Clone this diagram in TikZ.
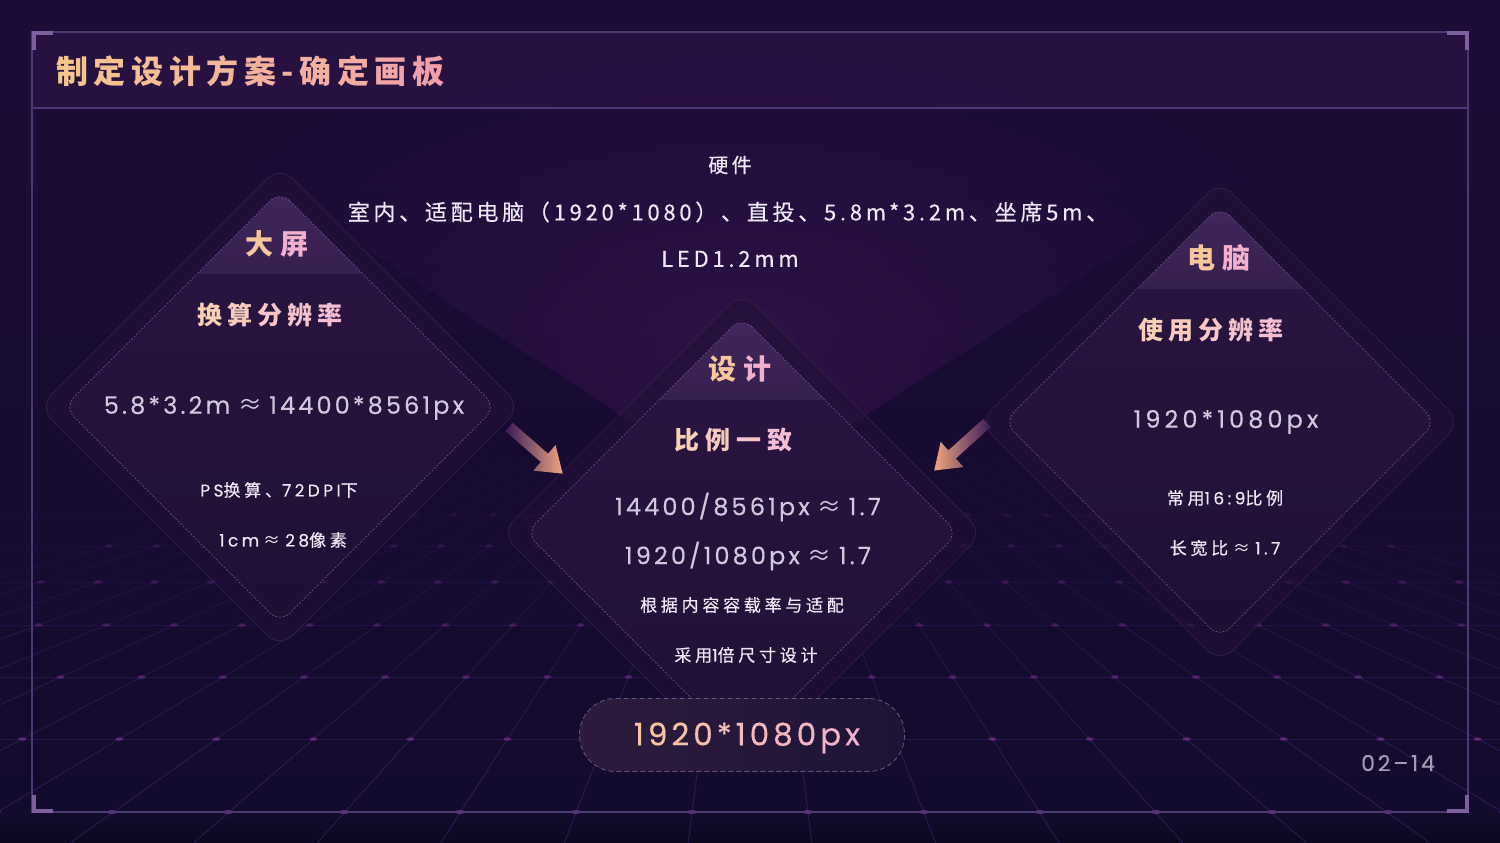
\documentclass[tikz,border=0pt]{standalone}
\usepackage{fontspec}
\usetikzlibrary{fadings}
\setmainfont{Poppins}
\newfontfamily\cjk{Noto Sans CJK SC}[LetterSpace=17,FakeBold=0.4]
\newfontfamily\cjkm{Noto Sans CJK SC}[LetterSpace=22,FakeBold=0.4]
\newfontfamily\cjks{Noto Sans CJK SC}[LetterSpace=22,FakeBold=0.4]
\newfontfamily\cjkp{Noto Sans CJK SC}
\newfontfamily\lat{Poppins}[LetterSpace=13,FakeBold=0.2]
\newfontfamily\lats{Poppins}[LetterSpace=20,FakeBold=0.3]
\newfontfamily\latp{Poppins}[FakeBold=0.4]
\tikzfading[name=glowfade, inner color=transparent!0, outer color=transparent!100]
\definecolor{bgA}{HTML}{1E0C38}
\definecolor{bgB}{HTML}{190B34}
\definecolor{bgC}{HTML}{130B2D}
\definecolor{bgD}{HTML}{0B0820}
\definecolor{framec}{HTML}{4A3A72}
\definecolor{brk}{HTML}{7E609F}
\definecolor{barc}{HTML}{2B1446}
\definecolor{barline}{HTML}{4F3873}
\definecolor{outerc}{HTML}{241139}
\definecolor{outerb}{HTML}{352449}
\definecolor{innert}{HTML}{2A1543}
\definecolor{innerb}{HTML}{201034}
\definecolor{capT}{HTML}{43285E}
\definecolor{capB}{HTML}{36204F}
\definecolor{dashc}{HTML}{6E5594}
\definecolor{pA}{HTML}{F7C79C}
\definecolor{pB}{HTML}{F3B0CD}
\definecolor{sA}{HTML}{F8D0B5}
\definecolor{sB}{HTML}{F4BFD3}
\definecolor{tA}{HTML}{F6C58E}
\definecolor{tB}{HTML}{F1A0AA}
\definecolor{wtext}{HTML}{EEE8F4}
\definecolor{ntext}{HTML}{D2C7DE}
\definecolor{pagec}{HTML}{A39BB3}
\definecolor{gridc}{HTML}{4A3390}
\definecolor{dotc}{HTML}{A03CB0}
\definecolor{glowc}{HTML}{35144E}
\definecolor{arrS}{HTML}{3A1A5A}
\definecolor{arrM}{HTML}{A8608E}
\definecolor{arrT}{HTML}{EFA67E}
\definecolor{pillL}{HTML}{2E1B3D}
\definecolor{pillR}{HTML}{1D1436}
\definecolor{pillb}{HTML}{645680}
\newlength\gw
\newcommand\g[2]{\textcolor{#1}{#2}\kern\gw}
\newcommand\gl[2]{\textcolor{#1}{#2}}
\begin{document}
\begin{tikzpicture}[x=1pt,y=-1pt,
  hdr/.style={inner sep=0pt, font=\fontsize{28}{30}\selectfont\cjkp\bfseries},
  sub/.style={inner sep=0pt, font=\fontsize{25}{28}\selectfont\cjkp\bfseries},
  num/.style={inner sep=0pt, text=ntext, font=\fontsize{24}{26}\selectfont\lat},
  sml/.style={inner sep=0pt, text=wtext, font=\fontsize{17}{19}\selectfont\cjks},
  smlb/.style={inner sep=0pt, text=wtext, font=\fontsize{17}{19}\selectfont\cjkm},
  toptxt/.style={inner sep=0pt, text=wtext, font=\fontsize{22}{24}\selectfont\cjk},
  outerd/.style={fill=outerc, fill opacity=0.6, draw=outerb, line width=0.6pt, rounded corners=18pt},
  innerd/.style={top color=innert, bottom color=innerb, rounded corners=14pt},
  innerdash/.style={draw=dashc, line width=0.6pt, dash pattern=on 2pt off 1.6pt, rounded corners=14pt},
  brack/.style={draw=brk, line width=4pt},
  pill/.style={draw=pillb, line width=0.8pt, dash pattern=on 5pt off 3pt, left color=pillL, right color=pillR, rounded corners=36pt, minimum width=325pt, minimum height=73pt, inner sep=0pt},
]
\useasboundingbox (0,0) rectangle (1500,843);
% background
\shade[top color=bgA, middle color=bgB, bottom color=bgC] (0,0) rectangle (1500,812);
\shade[top color=bgC, bottom color=bgD] (0,812) rectangle (1500,843);
\begin{scope}
  \clip (0,0) -- (1500,0) -- (1500,8) -- (742,495) -- (0,8) -- cycle;
  \fill[glowc, path fading=glowfade, fill opacity=0.7] (742,340) ellipse [x radius=620, y radius=320];
\end{scope}
% perspective grid
\foreach \k in {-14,...,13} {
  \pgfmathsetmacro\dx{(808+116*\k-750)/452}
  \foreach \ya/\yb/\op in {460/490/0.04, 490/515/0.08, 515/546/0.12, 546/582/0.17, 582/625/0.23, 625/677/0.3, 677/739/0.37, 739/813/0.45, 813/843/0.45} {
    \draw[gridc, line width=0.8pt, opacity=\op] ({750+\dx*(\ya-361)},\ya) -- ({750+\dx*(\yb-361)},\yb);
  }
}
\foreach \y/\op in {515/0.06, 546/0.1, 582/0.15, 625/0.2, 677/0.26, 739/0.32} {
  \draw[gridc, line width=0.8pt, opacity=\op] (0,\y) -- (1500,\y);
  \foreach \k in {-14,...,13} {
    \pgfmathsetmacro\xx{750+(808+116*\k-750)/452*(\y-361)}
    \fill[dotc, opacity=\op*1.5] (\xx,\y) ellipse [x radius=4, y radius=1.8];
  }
}
\foreach \k in {-14,...,13} {
  \pgfmathsetmacro\xx{808+116*\k}
  \fill[dotc, opacity=0.6] (\xx,812) ellipse [x radius=5, y radius=2];
}
% frame and title bar
\fill[barc, fill opacity=0.7] (32,32) rectangle (1468,108);
\draw[barline, line width=1.2pt] (32,108) -- (1468,108);
\draw[framec, line width=1.2pt] (32,32) rectangle (1468,812);
\draw[brack] (33.5,50) -- (33.5,33.5) -- (53,33.5);
\draw[brack] (1447,33.5) -- (1466.5,33.5) -- (1466.5,50);
\draw[brack] (33.5,795) -- (33.5,810.5) -- (53,810.5);
\draw[brack] (1447,810.5) -- (1466.5,810.5) -- (1466.5,795);
% diamonds
\foreach \cx/\cy in {280/407, 742/533, 1220/422} {
  \fill[outerd] (\cx,\cy-241) -- (\cx+241,\cy) -- (\cx,\cy+241) -- (\cx-241,\cy) -- cycle;
  \shade[innerd] (\cx,\cy-216) -- (\cx+216,\cy) -- (\cx,\cy+216) -- (\cx-216,\cy) -- cycle;
  \begin{scope}
    \clip[rounded corners=14pt] (\cx,\cy-216) -- (\cx+216,\cy) -- (\cx,\cy+216) -- (\cx-216,\cy) -- cycle;
    \shade[top color=capT, bottom color=capB] (\cx-220,\cy-230) rectangle (\cx+220,\cy-134);
  \end{scope}
  \draw[innerdash] (\cx,\cy-216) -- (\cx+216,\cy) -- (\cx,\cy+216) -- (\cx-216,\cy) -- cycle;
}
% arrows
\coordinate (aL) at (509,427);
\coordinate (aR) at (987,423);
\begin{scope}[shift={(aL)}, rotate=-41]
  \shade[left color=arrS, middle color=arrM, right color=arrT] (0,-5.5) -- (47,-5.5) -- (47,-17) -- (71,0) -- (47,17) -- (47,5.5) -- (0,5.5) -- cycle;
\end{scope}
\begin{scope}[shift={(aR)}, rotate=-138]
  \shade[left color=arrT, middle color=arrM, right color=arrS] (0,-5.5) -- (47,-5.5) -- (47,-17) -- (71,0) -- (47,17) -- (47,5.5) -- (0,5.5) -- cycle;
\end{scope}
% title
\node[anchor=west, inner sep=0pt, font=\fontsize{32}{34}\selectfont\cjkp\bfseries] (title) at (56,71) {\setlength\gw{5.6pt}\g{tB!0!tA}{制}\g{tB!10!tA}{定}\g{tB!20!tA}{设}\g{tB!30!tA}{计}\g{tB!40!tA}{方}\g{tB!50!tA}{案}\g{tB!55!tA}{-}\g{tB!60!tA}{确}\g{tB!70!tA}{定}\g{tB!85!tA}{画}\gl{tB}{板}};
% top text
\node[toptxt, font=\fontsize{20}{22}\selectfont\cjk] (hw) at (730,165) {硬件};
\node[toptxt] (hw1) at (728,212) {室内、适配电脑（1920*1080）、直投、5.8m*3.2m、坐席5m、};
\node[toptxt] (hw2) at (730,259) {LED1.2mm};
% left diamond
\node[hdr] (Lh) at (277,244) {\setlength\gw{7pt}\g{pA}{大}\gl{pB}{屏}};
\node[sub] (Ls) at (270,315) {\setlength\gw{5pt}\g{sA}{换}\g{sA!75!sB}{算}\g{sA!50!sB}{分}\g{sA!25!sB}{辨}\gl{sB}{率}};
\node[num] (Ln) at (284,408) {5.8*3.2m\kern8pt{\cjkp≈}\kern7pt14400*8561px};
\node[sml] (Lp) at (279,490) {{\lats PS}换算、{\lats 72DPI}下};
\node[sml] (Lc) at (283,540) {{\lats 1cm}\kern4pt{\cjkp≈}\kern5pt{\lats 28}像素};
% center diamond
\node[hdr] (Ch) at (740,369) {\setlength\gw{7pt}\g{pA}{设}\gl{pB}{计}};
\node[sub] (Cs) at (733,440) {\setlength\gw{6pt}\g{sA}{比}\g{sA!67!sB}{例}\g{sA!33!sB}{一}\gl{sB}{致}};
\node[num] (Cn1) at (748,507) {14400/8561px\kern8pt{\cjkp≈}\kern7pt1.7};
\node[num] (Cn2) at (748,556) {1920/1080px\kern8pt{\cjkp≈}\kern7pt1.7};
\node[smlb] (Cp) at (742,605) {根据内容容载率与适配};
\node[smlb] (Cq) at (746,655) {采用{\lats 1}倍尺寸设计};
% right diamond
\node[hdr] (Rh) at (1219,258) {\setlength\gw{7pt}\g{pA}{电}\gl{pB}{脑}};
\node[sub] (Rs) at (1211,330) {\setlength\gw{5pt}\g{sA}{使}\g{sA!75!sB}{用}\g{sA!50!sB}{分}\g{sA!25!sB}{辨}\gl{sB}{率}};
\node[num, font=\fontsize{24}{26}\selectfont\lat\addfontfeature{LetterSpace=17}] (Rn) at (1226,422) {1920*1080px};
\node[sml] (Rp) at (1225,498) {常用{\lats 16:9}比例};
\node[sml] (Rq) at (1225,548) {长宽比\kern5pt{\cjkp≈}\kern5pt{\lats 1.7}};
% pill
\node[pill] (pill) at (742,735) {};
\node[inner sep=0pt, font=\fontsize{31}{33}\selectfont\latp] (pillt) at (747,738) {\setlength\gw{4pt}\g{pA}{1}\g{pB!10!pA}{9}\g{pB!20!pA}{2}\g{pB!30!pA}{0}\g{pB!40!pA}{*}\g{pB!50!pA}{1}\g{pB!60!pA}{0}\g{pB!70!pA}{8}\g{pB!80!pA}{0}\g{pB!90!pA}{p}\gl{pB}{x}};
% page number
\node[inner sep=0pt, text=pagec, font=\fontsize{22}{24}\selectfont\lat] (pg) at (1398,763) {02–14};
\end{tikzpicture}
\end{document}
